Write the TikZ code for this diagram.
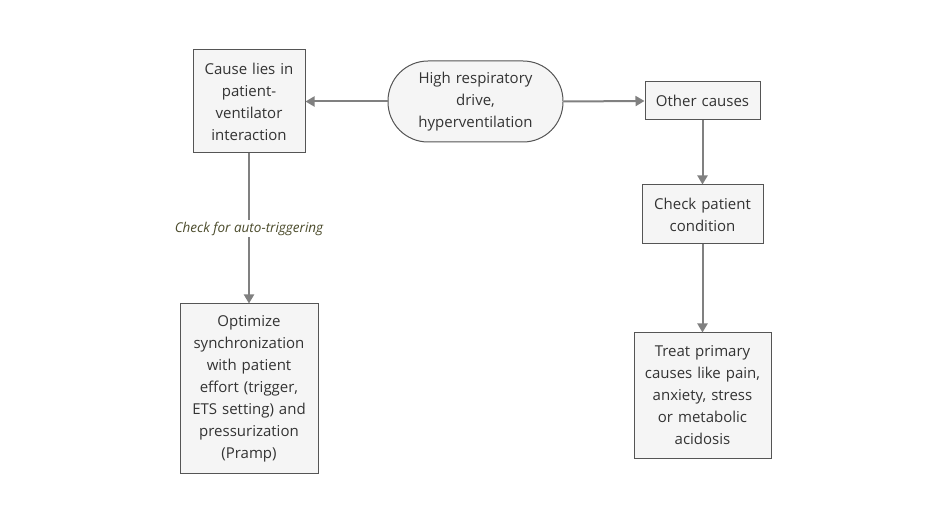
\documentclass[tikz,border=0pt]{standalone}
\usepackage{fontspec}
\setmainfont{Open Sans}
\usetikzlibrary{arrows.meta}
\definecolor{boxfill}{HTML}{F5F5F5}
\definecolor{boxline}{HTML}{555555}
\definecolor{arrowc}{HTML}{808080}
\definecolor{labelc}{HTML}{4B4B2B}
\begin{document}
\begin{tikzpicture}[x=1pt,y=-1pt,
  box/.style={draw=boxline,fill=boxfill,line width=1pt,align=center,inner sep=0pt,
    font=\fontsize{15}{22}\selectfont,text=black!80},
  conn/.style={draw=arrowc,line width=2pt,-{Triangle[length=9pt,width=10pt]}},
  lbl/.style={font=\fontsize{13.5}{15}\selectfont\itshape,text=labelc,fill=white,inner sep=2pt}]
\useasboundingbox (0,0) rectangle (940,529);
\node[box,minimum width=112pt,minimum height=103pt,text width=110pt] (cause) at (249,101.5) {Cause lies in\\patient-\\ventilator\\interaction};
\node[box,minimum width=175pt,minimum height=81pt,text width=150pt,rounded corners=40pt] (high) at (475.5,101.5) {High respiratory\\drive,\\hyperventilation};
\node[box,minimum width=115pt,minimum height=38pt,text width=113pt] (other) at (702.5,101) {Other causes};
\node[box,minimum width=121pt,minimum height=59pt,text width=119pt] (check) at (702.5,214.5) {Check patient\\condition};
\node[box,minimum width=138pt,minimum height=169pt,text width=136pt] (opt) at (249,388.5) {Optimize\\synchronization\\with patient\\effort (trigger,\\ETS setting) and\\pressurization\\(Pramp)};
\node[box,minimum width=137pt,minimum height=125pt,text width=135pt] (treat) at (702.5,395.5) {Treat primary\\causes like pain,\\anxiety, stress\\or metabolic\\acidosis};
\draw[conn] (high.west) -- (cause.east);
\draw[conn] (high.east) -- (other.west);
\draw[conn] (other.south) -- (check.north);
\draw[conn] (check.south) -- (treat.north);
\draw[conn] (cause.south) -- node[lbl] (trig) {Check for auto-triggering} (opt.north);
\end{tikzpicture}
\end{document}
